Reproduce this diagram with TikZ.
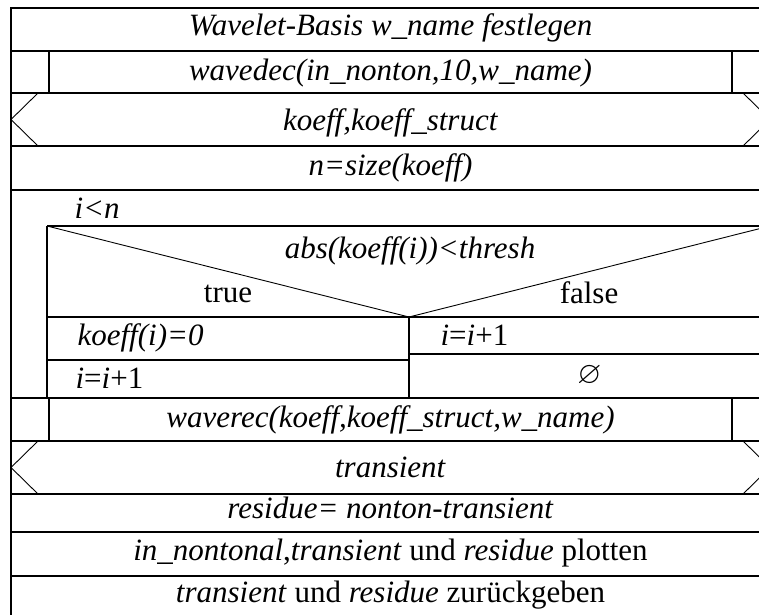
\documentclass[tikz,border=0pt]{standalone}
\usepackage{fontspec}
\setmainfont{Liberation Serif}
\usepackage{amssymb}
\begin{document}
\begin{tikzpicture}[x=1pt,y=-1pt,line width=1.2pt,
  txt/.style={font=\fontsize{31}{36}\selectfont,inner sep=0pt,anchor=base},
  ltxt/.style={txt,anchor=base west},
  thinline/.style={line width=0.9pt}]
\clip (0,0) rectangle (759,614);
\useasboundingbox (0,0) rectangle (759,614);
% outer frame and row separators
\draw (11,8) rectangle (770,620);
\foreach \yy in {51,93,146,190,398,441,494,532,576}
  \draw (11,\yy) -- (770,\yy);
% call rows
\draw (49,51) -- (49,93);
\draw (732,51) -- (732,93);
\draw (49,398) -- (49,441);
\draw (732,398) -- (732,441);
% input/output rows
\draw[thinline] (38,93) -- (11,119.5) -- (38,146);
\draw[thinline] (743,93) -- (770,119.5) -- (743,146);
\draw[thinline] (38,441) -- (11,467.5) -- (38,494);
\draw[thinline] (743,441) -- (770,467.5) -- (743,494);
% loop body
\draw (47,226) -- (47,398);
\draw (47,226) -- (770,226);
% if block
\draw[thinline] (47,226) -- (409,317) -- (770,226);
\draw (47,317) -- (770,317);
\draw (409,317) -- (409,398);
\draw (47,360) -- (409,360);
\draw (409,354) -- (770,354);
% texts
\node[txt] (t1) at (390.5,35) {\textit{Wavelet-Basis w\_name festlegen}};
\node[txt] (t2) at (390.5,80) {\textit{wavedec(in\_nonton,10,w\_name)}};
\node[txt] (t3) at (390.5,130) {\textit{koeff,koeff\_struct}};
\node[txt] (t4) at (390.5,175) {\textit{n=size(koeff)}};
\node[ltxt] (t5) at (74,218) {\textit{i<n}};
\node[txt] (t6) at (410,258) {\textit{abs(koeff(i))<thresh}};
\node[txt] (t7) at (228,302) {true};
\node[txt] (t8) at (589,303) {false};
\node[ltxt] (t9) at (77,345) {\textit{koeff(i)=0}};
\node[ltxt] (t10) at (75,388) {\textit{i}=\textit{i}+1};
\node[ltxt] (t11) at (440,345) {\textit{i}=\textit{i}+1};
\node[txt] (t12) at (589.5,383) {$\varnothing$};
\node[txt] (t13) at (390.5,427) {\textit{waverec(koeff,koeff\_struct,w\_name)}};
\node[txt] (t14) at (390.5,477) {\textit{transient}};
\node[txt] (t15) at (390.5,518) {\textit{residue= nonton-transient}};
\node[txt] (t16) at (390.5,560) {\textit{in\_nontonal},\textit{transient} und \textit{residue} plotten};
\node[txt] (t17) at (390.5,602) {\textit{transient} und \textit{residue} zurückgeben};
\end{tikzpicture}
\end{document}
